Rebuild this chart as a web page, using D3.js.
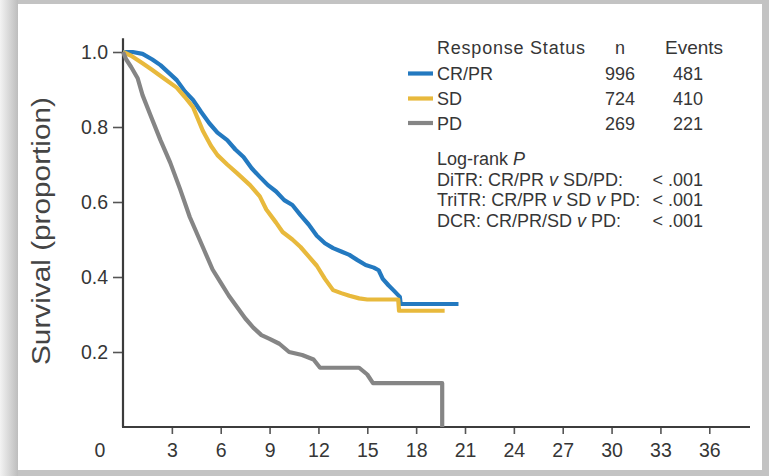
<!DOCTYPE html>
<html>
<head>
<meta charset="utf-8">
<script src="https://cdn.jsdelivr.net/npm/d3@7"></script>
<style>
  body { margin: 0; background: #fff; }
  svg { display: block; font-family: "Liberation Sans", Arial, sans-serif; }
</style>
</head>
<body>
<div id="chart"></div>
<script>
// Kaplan-Meier curves: [month, survival proportion]
const crprCurve = [[0,1.0],[0.6,1.0],[1.2,0.995],[1.8,0.98],[2.3,0.965],[2.8,0.945],[3.3,0.925],[3.8,0.895],
  [4.3,0.872],[4.8,0.84],[5.3,0.81],[5.8,0.785],[6.4,0.765],[6.9,0.74],[7.4,0.72],[7.9,0.69],[8.4,0.667],
  [8.9,0.645],[9.4,0.628],[9.9,0.605],[10.4,0.592],[10.9,0.565],[11.4,0.54],[11.9,0.51],[12.4,0.49],[12.9,0.477],
  [13.4,0.468],[13.9,0.459],[14.4,0.445],[14.9,0.432],[15.4,0.425],[15.7,0.418],[15.95,0.395],[16.3,0.378],
  [16.6,0.365],[17.0,0.347],[17.05,0.328],[20.6,0.328]];

const sdCurve = [[0,1.0],[0.5,0.99],[1.2,0.97],[1.8,0.952],[2.5,0.93],[3.3,0.905],[3.8,0.88],[4.3,0.853],
  [4.9,0.79],[5.4,0.75],[5.8,0.725],[6.4,0.7],[7.0,0.677],[7.8,0.645],[8.4,0.615],[8.8,0.58],[9.4,0.545],
  [9.8,0.52],[10.4,0.5],[10.9,0.48],[11.4,0.455],[11.9,0.43],[12.4,0.395],[12.9,0.365],[13.4,0.357],
  [13.9,0.35],[14.5,0.343],[15.0,0.34],[16.9,0.34],[16.95,0.31],[19.75,0.31]];

const pdCurve = [[0,1.0],[0.2,0.98],[0.5,0.96],[0.9,0.93],[1.2,0.885],[1.7,0.83],[2.3,0.765],[2.9,0.705],
  [3.5,0.635],[4.1,0.56],[4.5,0.52],[5.0,0.47],[5.5,0.42],[6.0,0.385],[6.5,0.35],[7.0,0.32],[7.5,0.29],
  [8.0,0.265],[8.5,0.245],[9.0,0.235],[9.6,0.222],[10.2,0.2],[11.0,0.192],[11.7,0.18],[12.1,0.158],
  [14.5,0.158],[15.0,0.14],[15.35,0.117],[19.6,0.117],[19.6,0]];

const groups = ["CR/PR", "SD", "PD"];
const groupN = [996, 724, 269];
const groupEvents = [481, 410, 221];
const groupColors = ["#2379c0", "#e8b93c", "#858585"];

const xTicks = [3, 6, 9, 12, 15, 18, 21, 24, 27, 30, 33, 36];
const yTicks = [0.2, 0.4, 0.6, 0.8, 1.0];

const logRankRows = [
  ["DiTR: CR/PR ", "v", " SD/PD:", "< .001"],
  ["TriTR: CR/PR ", "v", " SD ", "v", " PD:", "< .001"],
  ["DCR: CR/PR/SD ", "v", " PD:", "< .001"]
];

const width = 769, height = 476;
const textColor = "#363636";

const svg = d3.select("#chart")
  .append("svg")
  .attr("width", width)
  .attr("height", height);

// page frame: grey border with soft left shadow, white card
const defs = svg.append("defs");
const grad = defs.append("linearGradient").attr("id", "leftShade");
grad.append("stop").attr("offset", "0%").attr("stop-color", "#f3f3f3");
grad.append("stop").attr("offset", "100%").attr("stop-color", "#bdbdbd");

svg.append("rect").attr("width", width).attr("height", height).attr("fill", "#c3c3c3");
svg.append("rect").attr("x", 0).attr("y", 0).attr("width", 18).attr("height", height)
  .attr("fill", "url(#leftShade)");
svg.append("rect").attr("x", 18).attr("y", 4).attr("width", 744).attr("height", 466)
  .attr("fill", "#fff");

// scales
const x = d3.scaleLinear().domain([0, 38.5]).range([123, 750]);
const y = d3.scaleLinear().domain([0, 1]).range([427, 52]);

// x axis
const xAxis = svg.append("g")
  .attr("transform", `translate(0,${y(0)})`)
  .call(d3.axisBottom(x).tickValues(xTicks).tickSize(7).tickPadding(9));
xAxis.select(".domain").remove();
xAxis.selectAll(".tick line").attr("stroke", "#555").attr("stroke-width", 1.6);
xAxis.selectAll(".tick text").style("font-size", "19.5px").attr("fill", textColor);

// y axis
const yAxis = svg.append("g")
  .attr("transform", `translate(${x(0)},0)`)
  .call(d3.axisLeft(y).tickValues(yTicks).tickFormat(d3.format(".1f")).tickSize(10).tickPadding(5));
yAxis.select(".domain").remove();
yAxis.selectAll(".tick line").attr("stroke", "#555").attr("stroke-width", 1.6);
yAxis.selectAll(".tick text").style("font-size", "19.5px").attr("fill", textColor);

// axis lines
svg.append("line")
  .attr("x1", x(0)).attr("x2", x(0))
  .attr("y1", y(1.037)).attr("y2", y(0))
  .attr("stroke", "#3c3c3c").attr("stroke-width", 2.2);
svg.append("line")
  .attr("x1", x(0) - 1).attr("x2", x(38.5))
  .attr("y1", y(0)).attr("y2", y(0))
  .attr("stroke", "#3c3c3c").attr("stroke-width", 2.2);

// shared origin label
svg.append("text")
  .attr("x", 100).attr("y", 457)
  .attr("text-anchor", "middle")
  .style("font-size", "19.5px")
  .attr("fill", textColor)
  .text("0");

// y axis title
svg.append("text")
  .attr("transform", "translate(50,231) rotate(-90)")
  .attr("text-anchor", "middle")
  .attr("textLength", 268)
  .attr("lengthAdjust", "spacingAndGlyphs")
  .style("font-size", "25px")
  .attr("fill", "#444")
  .text("Survival (proportion)");

// curves
const line = d3.line()
  .x(d => x(d[0]))
  .y(d => y(d[1]));

[crprCurve, sdCurve, pdCurve].forEach((curve, i) => {
  svg.append("path")
    .datum(curve)
    .attr("fill", "none")
    .attr("stroke", groupColors[i])
    .attr("stroke-width", 4.2)
    .attr("stroke-linejoin", "round")
    .attr("d", line);
});

// legend table
const legend = svg.append("g").style("font-size", "18px").attr("fill", textColor);
legend.append("text").attr("x", 437).attr("y", 54)
  .attr("textLength", 148).attr("lengthAdjust", "spacing")
  .text("Response Status");
legend.append("text").attr("x", 620).attr("y", 54).attr("text-anchor", "middle").text("n");
legend.append("text").attr("x", 694).attr("y", 54).attr("text-anchor", "middle")
  .style("font-size", "19px").text("Events");

const rowY = [80, 105, 129.5];
groups.forEach((g, i) => {
  legend.append("line")
    .attr("x1", 408).attr("x2", 433)
    .attr("y1", rowY[i] - 6.5).attr("y2", rowY[i] - 6.5)
    .attr("stroke", groupColors[i]).attr("stroke-width", 4.2);
  legend.append("text").attr("x", 437).attr("y", rowY[i]).text(g);
  legend.append("text").attr("x", 620).attr("y", rowY[i]).attr("text-anchor", "middle").text(groupN[i]);
  legend.append("text").attr("x", 688).attr("y", rowY[i]).attr("text-anchor", "middle").text(groupEvents[i]);
});

// log-rank block
const lr = legend.append("text").attr("x", 437).attr("y", 165);
lr.append("tspan").text("Log-rank ");
lr.append("tspan").style("font-style", "italic").text("P");

const lrY = [185.5, 206, 227];
logRankRows.forEach((parts, i) => {
  const t = legend.append("text").attr("x", 437).attr("y", lrY[i]);
  parts.slice(0, -1).forEach(p => {
    t.append("tspan").style("font-style", p === "v" ? "italic" : null).text(p);
  });
  legend.append("text").attr("x", 703).attr("y", lrY[i]).attr("text-anchor", "end")
    .text(parts[parts.length - 1]);
});
</script>
</body>
</html>
